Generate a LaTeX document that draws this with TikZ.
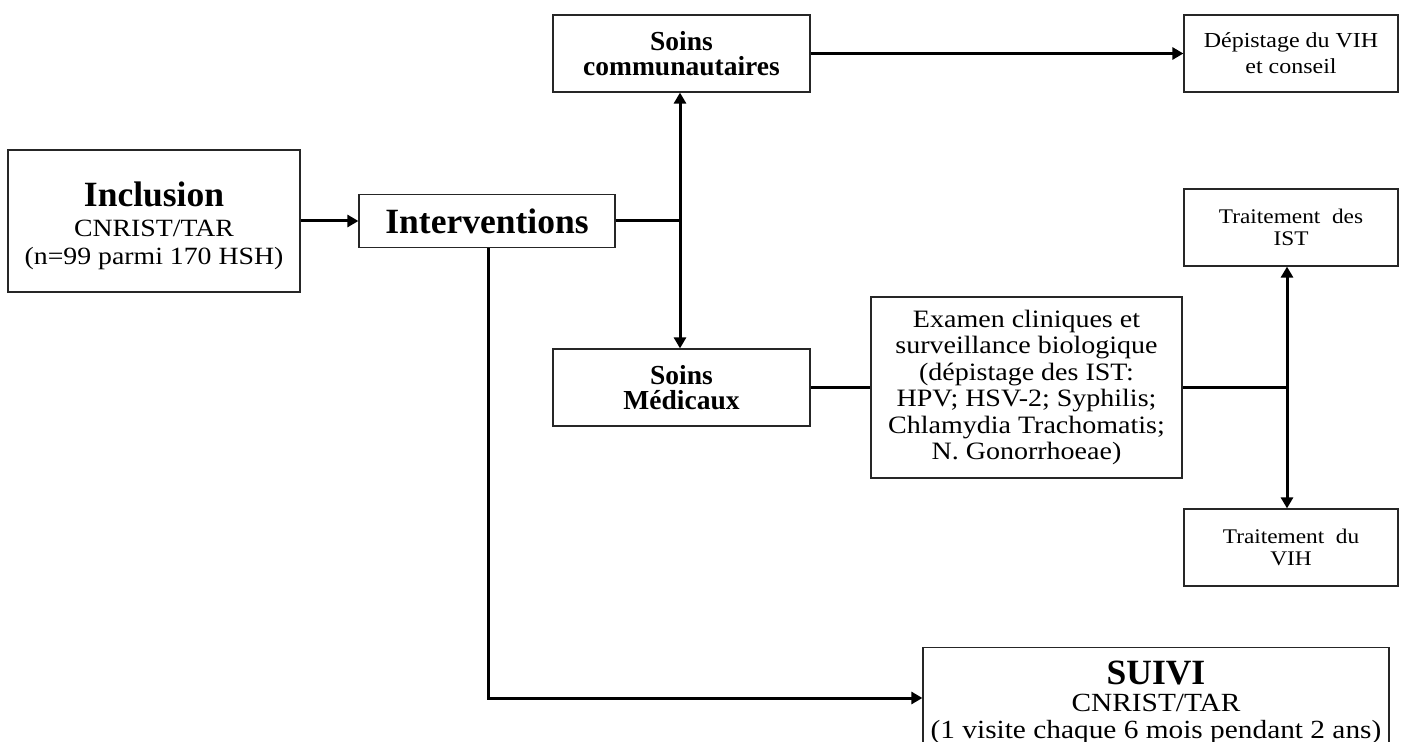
\documentclass[tikz,border=0pt]{standalone}
\usepackage{fontspec}
\setmainfont{Liberation Serif}[FakeStretch=1.12]
\newfontfamily\boldserif{Liberation Serif}
\usetikzlibrary{arrows.meta}
\begin{document}
\begin{tikzpicture}[x=0.5pt,y=-0.5pt,
  box/.style={draw=black!85, line width=0.6pt, fill=white, inner sep=0pt, align=center, text=black},
  conn/.style={line width=1.5pt, black},
  arr/.style={conn, -{Triangle[length=5.5pt,width=6pt]}},
]
\useasboundingbox[fill=white] (0,0) rectangle (1402,742);

% boxes
\node[box, minimum width=146pt, minimum height=71pt, font=\fontsize{12.4}{14}\selectfont] (incl) at (154,221)
  {{\boldserif\fontsize{17.75}{14}\selectfont\bfseries\rule{0pt}{17pt}Inclusion}\\[1pt]
   CNRIST/TAR\\(n=99 parmi 170 HSH)};
\node[box, minimum width=128pt, minimum height=26.5pt, font=\boldserif\fontsize{17.75}{18}\selectfont\bfseries] (interv) at (487,221)
  {Interventions};
\node[box, minimum width=128.5pt, minimum height=38.5pt, font=\boldserif\fontsize{13.75}{12.5}\selectfont\bfseries] (comm) at (681.5,53.5)
  {Soins\\communautaires};
\node[box, minimum width=128.5pt, minimum height=38.5pt, font=\boldserif\fontsize{13.75}{12.5}\selectfont\bfseries] (med) at (681.5,387.5)
  {Soins\\M\'edicaux};
\node[box, minimum width=107pt, minimum height=38.5pt, font=\fontsize{10.7}{13}\selectfont] (dep) at (1291,53.5)
  {D\'epistage du VIH\\et conseil};
\node[box, minimum width=107pt, minimum height=38.5pt, font=\fontsize{10.4}{11.3}\selectfont] (ist) at (1291,227.5)
  {Traitement\ \ des\\IST};
\node[box, minimum width=107pt, minimum height=38.5pt, font=\fontsize{10.4}{11.3}\selectfont] (vih) at (1291,547.5)
  {Traitement\ \ du\\VIH};
\node[box, minimum width=155.5pt, minimum height=90.5pt, font=\fontsize{12.5}{13.2}\selectfont] (exam) at (1026.5,387.5)
  {Examen cliniques et\\surveillance biologique\\(d\'epistage des IST:\\HPV; HSV-2; Syphilis;\\Chlamydia Trachomatis;\\N. Gonorrhoeae)};
\node[box, minimum width=233pt, minimum height=60pt, anchor=north] (suivi) at (1156,647) {};
\node[inner sep=0pt, align=center, anchor=north, font=\fontsize{13.1}{13.5}\selectfont] (suivitext) at ([yshift=-7pt]suivi.north)
  {{\boldserif\fontsize{17.75}{14}\selectfont\bfseries SUIVI}\\[0pt]
   CNRIST/TAR\\(1 visite chaque 6 mois pendant 2 ans)};

% connectors
\coordinate (t1) at (680,221);
\coordinate (t2) at (1287,387.5);
\coordinate (sin) at ([yshift=-25.5pt]suivi.north west);

\draw[arr] (incl.east) -- (interv.west);
\draw[conn] (interv.east) -- (t1);
\draw[arr] (t1) -- (t1 |- comm.south);
\draw[arr] (t1) -- (t1 |- med.north);
\draw[arr] (comm.east) -- (dep.west);
\draw[conn] (med.east) -- (exam.west);
\draw[conn] (exam.east) -- (t2);
\draw[arr] (t2) -- (t2 |- ist.south);
\draw[arr] (t2) -- (t2 |- vih.north);
\draw[arr] ([xshift=0.5pt]interv.south) |- (sin);
\end{tikzpicture}
\end{document}
